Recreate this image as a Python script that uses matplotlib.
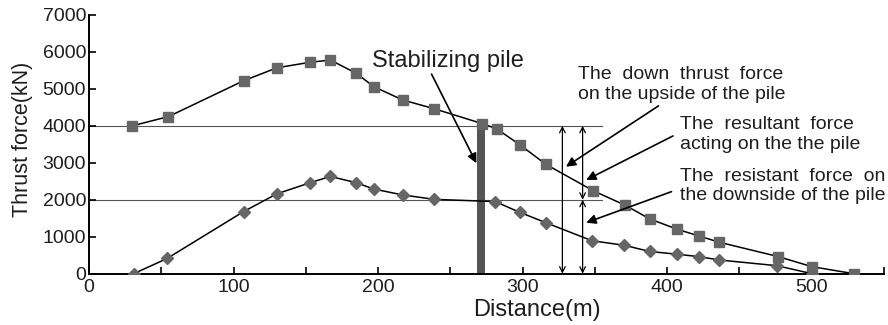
import matplotlib
matplotlib.use("Agg")
import matplotlib.pyplot as plt

plt.rcParams['font.family'] = ['Liberation Sans', 'DejaVu Sans']

# Down thrust force (squares)
dist_up = [30, 55, 107, 130, 153, 167, 185, 197, 217, 239, 272, 282, 298, 316, 349, 371, 388, 407, 422, 436, 477, 500, 529]
force_up = [4000, 4250, 5220, 5570, 5720, 5780, 5420, 5060, 4700, 4460, 4060, 3920, 3490, 2960, 2240, 1850, 1480, 1200, 1020, 850, 460, 190, 0]

# Resistant force (diamonds)
dist_low = [31, 54, 107, 130, 153, 167, 185, 197, 217, 239, 281, 298, 316, 348, 370, 388, 407, 422, 436, 476, 500]
force_low = [0, 410, 1680, 2160, 2460, 2630, 2460, 2290, 2130, 2010, 1950, 1660, 1380, 890, 770, 600, 525, 460, 370, 215, 0]

pile_x = 271
pile_top = 4100
ref_levels = [4000, 2000]

fig = plt.figure(figsize=(8.88, 3.25), dpi=100)
ax = fig.add_axes([0.1002, 0.158, 0.8953, 0.796])

txt = '#1e1e1e'
mk = '#666666'

for lvl in ref_levels:
    ax.plot([0, 355], [lvl, lvl], color='#555555', lw=0.8, zorder=1)

ax.bar([pile_x], [pile_top], width=5.5, color='#555555', zorder=2)

ax.plot(dist_up, force_up, color='black', lw=1.1, marker='s', ms=6.8,
        mfc=mk, mec=mk, zorder=3)
ax.plot(dist_low, force_low, color='black', lw=1.1, marker='D', ms=6.2,
        mfc=mk, mec=mk, zorder=3)

# double-headed force arrows
dbl = dict(arrowstyle='<->', color='black', lw=0.9, shrinkA=0, shrinkB=0)
ax.annotate('', xy=(327.5, 0), xytext=(327.5, 4000), arrowprops=dbl)
ax.annotate('', xy=(341.5, 2000), xytext=(341.5, 4000), arrowprops=dbl)
ax.annotate('', xy=(341.5, 0), xytext=(341.5, 2000), arrowprops=dbl)

# labels with arrows
arr = dict(arrowstyle='-|>', color='black', lw=1.2, mutation_scale=14,
           shrinkA=0, shrinkB=0)
ax.text(248, 5763, 'Stabilizing pile', fontsize=17, color=txt,
        ha='center', va='center')
ax.annotate('', xy=(268, 2990), xytext=(237, 5400), arrowprops=arr)

ax.text(338, 5110, 'The  down  thrust  force\non the upside of the pile',
        fontsize=14, color=txt, ha='left', va='center', linespacing=1.2)
ax.annotate('', xy=(330, 2895), xytext=(394, 4540), arrowprops=arr)

ax.text(409, 3760, 'The  resultant  force\nacting on the the pile',
        fontsize=14, color=txt, ha='left', va='center', linespacing=1.2)
ax.annotate('', xy=(344, 2535), xytext=(404, 3726), arrowprops=arr)

ax.text(409, 2375, 'The  resistant  force  on\nthe downside of the pile',
        fontsize=14, color=txt, ha='left', va='center', linespacing=1.2)
ax.annotate('', xy=(344, 1380), xytext=(403, 2219), arrowprops=arr)

ax.set_xlim(0, 550)
ax.set_ylim(0, 7000)
ax.set_xticks(range(0, 501, 100))
ax.set_xticks(range(50, 551, 100), minor=True)
ax.set_yticks(range(0, 7001, 1000))
ax.tick_params(axis='both', which='both', direction='in', length=5,
               width=1.2, labelsize=14, labelcolor=txt)
ax.tick_params(axis='x', pad=4)
ax.tick_params(axis='y', pad=2)
for s in ['top', 'right']:
    ax.spines[s].set_visible(False)
for s in ['left', 'bottom']:
    ax.spines[s].set_linewidth(1.4)

ax.set_ylabel('Thrust force(kN)', fontsize=15.5, color=txt)
ax.yaxis.set_label_coords(-0.0704, 0.52)
ax.set_xlabel('Distance(m)', fontsize=17, color=txt)
ax.xaxis.set_label_coords(0.5635, -0.097)

fig.savefig('out.png', dpi=100)
